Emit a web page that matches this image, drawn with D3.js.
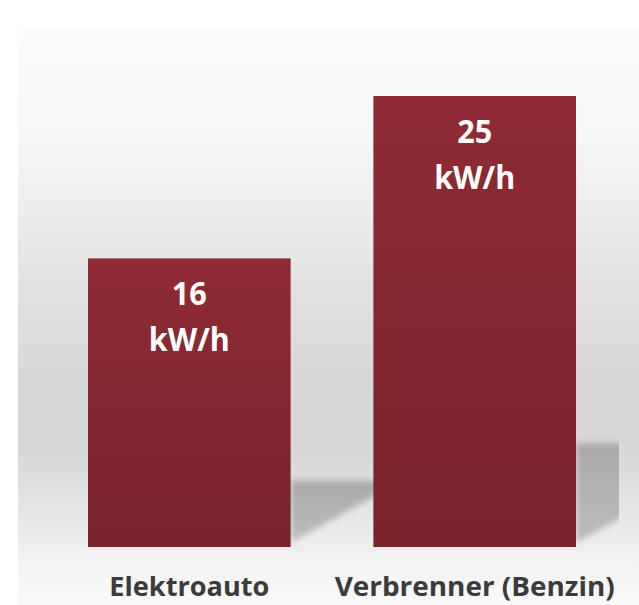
<!DOCTYPE html>
<html>
<head>
<meta charset="utf-8">
<script src="https://cdn.jsdelivr.net/npm/d3@7"></script>
<style>
  html, body { margin: 0; padding: 0; background: #fff; }
  svg { display: block; }
</style>
</head>
<body>
<svg id="chart"></svg>
<script>
const categories = ['Elektroauto', 'Verbrenner (Benzin)'];
const values = [16, 25];
const unit = 'kW/h';

const width = 639;
const height = 605;
const baseline = 547;

const svg = d3.select('#chart').attr('width', width).attr('height', height);
const defs = svg.append('defs');

// backdrop gradient (light -> grey band -> light)
const bg = defs.append('linearGradient').attr('id', 'bgGrad')
    .attr('x1', 0).attr('y1', 0).attr('x2', 0).attr('y2', 1);
[[0, '#fcfcfc'], [0.16, '#f8f8f8'], [0.3, '#eeeeee'], [0.47, '#e0e0e0'],
 [0.6, '#d8d8d8'], [0.74, '#d8d8d8'], [0.85, '#e8e8e8'], [0.94, '#f4f4f4'], [1, '#f9f9f9']]
    .forEach(([o, c]) => bg.append('stop').attr('offset', o).attr('stop-color', c));

const barGrad = defs.append('linearGradient').attr('id', 'barGrad')
    .attr('x1', 0).attr('y1', 0).attr('x2', 0).attr('y2', 1);
barGrad.append('stop').attr('offset', 0).attr('stop-color', '#8f2b34');
barGrad.append('stop').attr('offset', 1).attr('stop-color', '#79232b');

const shGrad = defs.append('linearGradient').attr('id', 'shGrad')
    .attr('x1', 0).attr('y1', 0).attr('x2', 0).attr('y2', 1);
shGrad.append('stop').attr('offset', 0).attr('stop-color', '#a9a9a9');
shGrad.append('stop').attr('offset', 1).attr('stop-color', '#bdbdbd');

defs.append('filter').attr('id', 'blur')
    .attr('x', -0.2).attr('y', -0.2).attr('width', 1.4).attr('height', 1.4)
    .append('feGaussianBlur').attr('stdDeviation', 3);

defs.append('clipPath').attr('id', 'plotClip')
    .append('rect').attr('x', 18).attr('y', 0).attr('width', 601).attr('height', baseline);

svg.append('rect')
    .attr('x', 18).attr('y', 28)
    .attr('width', width - 18).attr('height', height - 28)
    .attr('fill', 'url(#bgGrad)');

const x = d3.scaleBand()
    .domain(categories)
    .range([88, 576])
    .paddingInner(0.29)
    .paddingOuter(0);

const y = d3.scaleLinear()
    .domain([0, 25])
    .range([baseline, 96]);

const data = categories.map((c, i) => ({ name: c, value: values[i] }));

// cast shadows behind the bars
const slope = 0.56;
const shW = 100;
svg.append('g')
    .attr('clip-path', 'url(#plotClip)')
    .selectAll('polygon')
    .data(data)
    .enter()
    .append('polygon')
    .attr('points', d => {
        const xr = x(d.name) + x.bandwidth();
        const top = baseline - (baseline - y(d.value)) * 0.23;
        return [[xr, top], [xr + shW, top], [xr + shW, baseline - 4 - slope * shW], [xr, baseline - 4]]
            .map(p => p.join(',')).join(' ');
    })
    .attr('fill', 'url(#shGrad)')
    .attr('filter', 'url(#blur)');

const bars = svg.append('g')
    .selectAll('g')
    .data(data)
    .enter()
    .append('g');

bars.append('rect')
    .attr('x', d => x(d.name))
    .attr('y', d => y(d.value))
    .attr('width', x.bandwidth())
    .attr('height', d => baseline - y(d.value))
    .attr('fill', 'url(#barGrad)');

const labelFont = '"Open Sans", "Noto Sans", sans-serif';

bars.append('text')
    .attr('x', d => x(d.name) + x.bandwidth() / 2)
    .attr('y', d => y(d.value) + 47)
    .attr('text-anchor', 'middle')
    .attr('font-family', labelFont)
    .attr('font-weight', 700)
    .attr('font-size', 33)
    .attr('fill', '#ffffff')
    .attr('textLength', 35)
    .attr('lengthAdjust', 'spacingAndGlyphs')
    .text(d => d.value);

bars.append('text')
    .attr('x', d => x(d.name) + x.bandwidth() / 2)
    .attr('y', d => y(d.value) + 93)
    .attr('text-anchor', 'middle')
    .attr('font-family', labelFont)
    .attr('font-weight', 700)
    .attr('font-size', 33)
    .attr('fill', '#ffffff')
    .attr('textLength', 81)
    .attr('lengthAdjust', 'spacingAndGlyphs')
    .text(unit);

// category axis labels
const axis = svg.append('g')
    .attr('transform', `translate(0, ${baseline})`)
    .call(d3.axisBottom(x).tickSize(0).tickPadding(0));
axis.select('.domain').remove();
axis.selectAll('text')
    .attr('y', 49)
    .attr('dy', 0)
    .attr('font-family', labelFont)
    .attr('font-weight', 700)
    .attr('font-size', 27)
    .attr('fill', '#3b3b3b')
    .attr('lengthAdjust', 'spacingAndGlyphs')
    .attr('textLength', d => d === categories[0] ? 160 : 280);
</script>
</body>
</html>
